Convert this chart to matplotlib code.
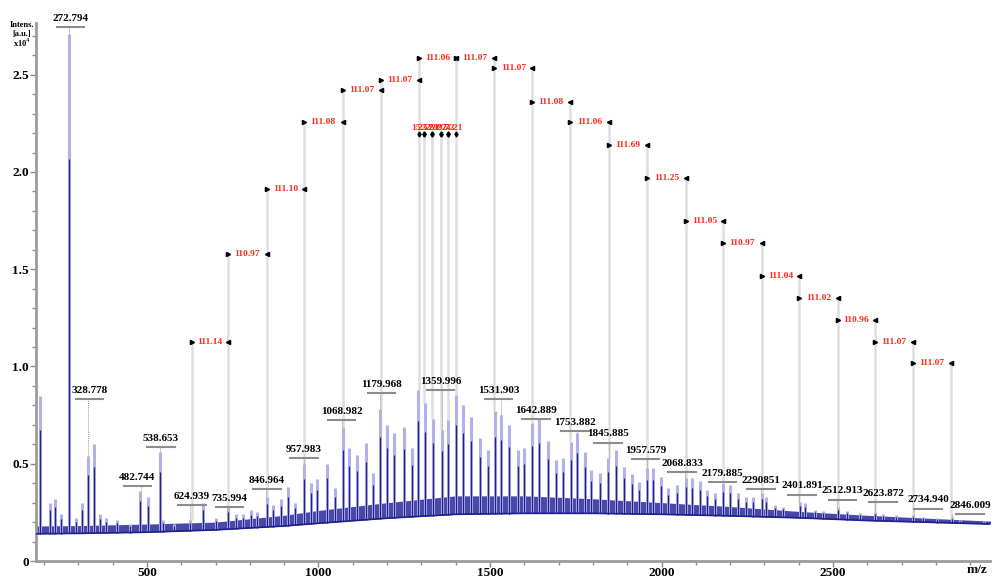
import numpy as np
import matplotlib
matplotlib.use("Agg")
from matplotlib import pyplot as plt
from matplotlib.ticker import MultipleLocator

# spectrum peaks (m/z, intensity x10^4)
peak_mz = [189, 217, 232, 249, 272.8, 293, 310, 328.8, 346.5, 363, 380, 412, 450,
           480.5, 502, 538.7, 546, 580, 625, 662, 700, 736, 760, 780, 803, 820,
           849, 868, 890, 912, 932, 958, 977, 995, 1024, 1048, 1070, 1089, 1111,
           1138, 1160, 1180, 1199, 1220, 1250, 1272, 1291, 1310, 1333, 1359, 1378,
           1400, 1420, 1446, 1471, 1493, 1514, 1532, 1555, 1582, 1599, 1622, 1643,
           1670, 1692, 1712, 1735, 1754, 1777, 1793, 1820, 1843, 1867, 1890, 1913,
           1935, 1957, 1976, 1998, 2020, 2044, 2070, 2088, 2112, 2132, 2156, 2180,
           2199, 2224, 2245, 2268, 2292, 2306, 2330, 2354, 2404, 2418, 2447, 2471,
           2515, 2540, 2578, 2622, 2646, 2685, 2734, 2763, 2802, 2846, 2870, 2940]
peak_int = [0.85, 0.30, 0.32, 0.24, 2.71, 0.22, 0.30, 0.54, 0.60, 0.24, 0.22, 0.21, 0.19,
            0.36, 0.33, 0.56, 0.21, 0.19, 0.21, 0.30, 0.22, 0.28, 0.24, 0.24, 0.26, 0.25,
            0.33, 0.29, 0.32, 0.38, 0.30, 0.50, 0.40, 0.42, 0.50, 0.375, 0.69, 0.58, 0.545,
            0.605, 0.45, 0.78, 0.70, 0.656, 0.69, 0.58, 0.88, 0.81, 0.73, 0.673, 0.725,
            0.853, 0.80, 0.74, 0.63, 0.57, 0.77, 0.75, 0.70, 0.57, 0.58, 0.71, 0.73,
            0.615, 0.52, 0.53, 0.613, 0.66, 0.56, 0.47, 0.45, 0.53, 0.573, 0.485, 0.445,
            0.405, 0.477, 0.477, 0.433, 0.374, 0.39, 0.425, 0.425, 0.41, 0.365, 0.348, 0.396,
            0.39, 0.348, 0.33, 0.33, 0.348, 0.33, 0.288, 0.28, 0.305, 0.30, 0.262, 0.255,
            0.28, 0.255, 0.245, 0.253, 0.24, 0.236, 0.236, 0.226, 0.22, 0.226, 0.21, 0.207]

# noise band (lower / upper edge) along m/z
base_mz = [176, 300, 500, 700, 900, 1000, 1200, 1400, 1600, 1800, 2000, 2200, 2400, 2600, 2800, 2960]
band_lo = [0.14, 0.142, 0.148, 0.16, 0.18, 0.194, 0.22, 0.24, 0.245, 0.245, 0.24, 0.232, 0.222, 0.208, 0.198, 0.19]
band_hi = [0.18, 0.182, 0.19, 0.20, 0.235, 0.26, 0.30, 0.335, 0.335, 0.32, 0.30, 0.28, 0.255, 0.235, 0.218, 0.205]

# peak labels
label_text = ["272.794", "328.778", "482.744", "538.653", "624.939", "735.994", "846.964",
              "957.983", "1068.982", "1179.968", "1359.996", "1531.903", "1642.889",
              "1753.882", "1845.885", "1957.579", "2068.833", "2179.885", "2290851",
              "2401.891", "2512.913", "2623.872", "2734.940", "2846.009"]
label_x = [277, 332, 472, 541, 631, 740, 850, 958, 1067, 1183, 1356, 1525, 1634,
           1748, 1844, 1953, 2060, 2178, 2290, 2410, 2528, 2646, 2777, 2899]
label_y = [2.79, 0.876, 0.43, 0.631, 0.334, 0.322, 0.416, 0.574, 0.768, 0.908, 0.925,
           0.879, 0.776, 0.713, 0.653, 0.567, 0.502, 0.451, 0.416, 0.386, 0.361, 0.348,
           0.314, 0.286]

# mass-difference ladder (red)
series_mz = [630, 737, 849, 958, 1070, 1181, 1292, 1401, 1513, 1623, 1734, 1847, 1959,
             2071, 2180, 2292, 2401, 2514, 2622, 2734, 2844]
diff_text = ["111.14", "110.97", "111.10", "111.08", "111.07", "111.07", "111.06", "111.07",
             "111.07", "111.08", "111.06", "111.69", "111.25", "111.05", "110.97", "111.04",
             "111.02", "110.96", "111.07", "111.07"]
diff_y = [1.126, 1.578, 1.913, 2.257, 2.42, 2.473, 2.586, 2.586, 2.535, 2.36, 2.257,
          2.139, 1.97, 1.748, 1.635, 1.465, 1.352, 1.239, 1.126, 1.018]
cluster_mz = [1292, 1309, 1332, 1357, 1377, 1401]
cluster_text = ["15.57", "23.29", "25.27", "19.73", "24.21"]
cluster_y = 2.195

serif = "Liberation Serif"
navy = "#1e1e8c"
light = "#b2b2e6"

fig = plt.figure(figsize=(9.92, 5.79), dpi=100)
ax = fig.add_axes([36 / 992, 18 / 579, 954 / 992, 538 / 579])
ax.set_xlim(176.4, 2957.7)
ax.set_ylim(0, 2.766)


def peak_top(mz):
    i = int(np.argmin(np.abs(np.array(peak_mz) - mz)))
    if abs(peak_mz[i] - mz) < 8:
        return peak_int[i]
    return np.interp(mz, base_mz, band_hi)


# gray guide lines of the ladder
for i, mz in enumerate(series_mz):
    tops = []
    if i > 0:
        tops.append(diff_y[i - 1])
    if i < len(diff_y):
        tops.append(diff_y[i])
    ax.vlines(mz, peak_top(mz), max(tops), color="#dedede", lw=1.8, zorder=1)
for mz in cluster_mz[1:-1]:
    ax.vlines(mz, peak_top(mz), cluster_y, color="#dedede", lw=1.8, zorder=1)

# spectrum: noise band + peaks
ax.fill_between(base_mz, band_lo, band_hi, color="#3434a0", alpha=0.9, lw=0, zorder=2)
ax.plot(base_mz, band_lo, color=navy, lw=1.2, zorder=3)
pm = np.array(peak_mz)
ph = np.array(peak_int)
pb = np.interp(pm, base_mz, band_lo)
ax.vlines(pm, pb, ph, color=light, lw=2.2, zorder=2)
ax.vlines(pm, pb, pb + 0.75 * (ph - pb), color=navy, lw=0.9, zorder=3)

# red difference labels
for k, t in enumerate(diff_text):
    x0, x1, h = series_mz[k], series_mz[k + 1], diff_y[k]
    ax.plot([x0], [h], marker=">", ms=3, color="k", zorder=4)
    ax.plot([x1], [h], marker="<", ms=3, color="k", zorder=4)
    ax.text((x0 + x1) / 2, h, t, color="#ff2a1a", fontsize=6.8, fontweight="bold",
            family=serif, ha="center", va="center", zorder=5)
for k, t in enumerate(cluster_text):
    x0, x1 = cluster_mz[k], cluster_mz[k + 1]
    ax.plot([x0, x1], [cluster_y, cluster_y], ls="none", marker="d", ms=2.5, color="k", zorder=4)
    ax.text((x0 + x1) / 2, cluster_y + 0.03, t, color="#ff2a1a", fontsize=6.8,
            fontweight="bold", family=serif, ha="center", va="center", zorder=5)

# black peak labels
for t, x, y in zip(label_text, label_x, label_y):
    ax.text(x, y, t, fontsize=8, fontweight="bold", family=serif, ha="center",
            va="center", zorder=6, clip_on=False)
    ax.plot([x - 40, x + 40], [y - 0.045, y - 0.045], color="#8c8c8c", lw=1.5, zorder=6,
            clip_on=False)
    pk = float(t) if "." in t else float(t[:4] + "." + t[4:])
    ax.vlines(pk, peak_top(pk), y - 0.045, color="#9a9a9a", lw=0.7, ls=(0, (1, 1)), zorder=3)

# axes styling
for s in ["top", "right"]:
    ax.spines[s].set_visible(False)
for s in ["left", "bottom"]:
    ax.spines[s].set_color("#9c9c9c")
    ax.spines[s].set_linewidth(2)
ax.xaxis.set_major_locator(MultipleLocator(500))
ax.xaxis.set_minor_locator(MultipleLocator(100))
ax.yaxis.set_major_locator(MultipleLocator(0.5))
ax.yaxis.set_minor_locator(MultipleLocator(0.1))
ax.tick_params(which="both", color="#8c8c8c", width=1, direction="out")
ax.tick_params(which="major", length=4, pad=1)
ax.tick_params(which="minor", length=3)
ax.tick_params(axis="x", which="major", pad=0.5)
ax.set_yticks([0, 0.5, 1.0, 1.5, 2.0, 2.5])
ax.set_yticklabels(["0", "0.5", "1.0", "1.5", "2.0", "2.5"])
for lab in ax.get_xticklabels() + ax.get_yticklabels():
    lab.set_family(serif)
    lab.set_fontweight("bold")
    lab.set_fontsize(9.5)

fig.text(977 / 992, 1 - 570 / 579, "m/z", family=serif, fontweight="bold", fontsize=9.5,
         ha="center", va="center")
fig.text(22 / 992, 1 - 25 / 579, "Intens.", family=serif, fontweight="bold", fontsize=6,
         ha="center", va="center")
fig.text(22 / 992, 1 - 34 / 579, "[a.u.]", family=serif, fontweight="bold", fontsize=6,
         ha="center", va="center")
fig.text(22 / 992, 1 - 43 / 579, "x10$^4$", family=serif, fontweight="bold", fontsize=6,
         ha="center", va="center")

fig.savefig("out.png", dpi=100)
